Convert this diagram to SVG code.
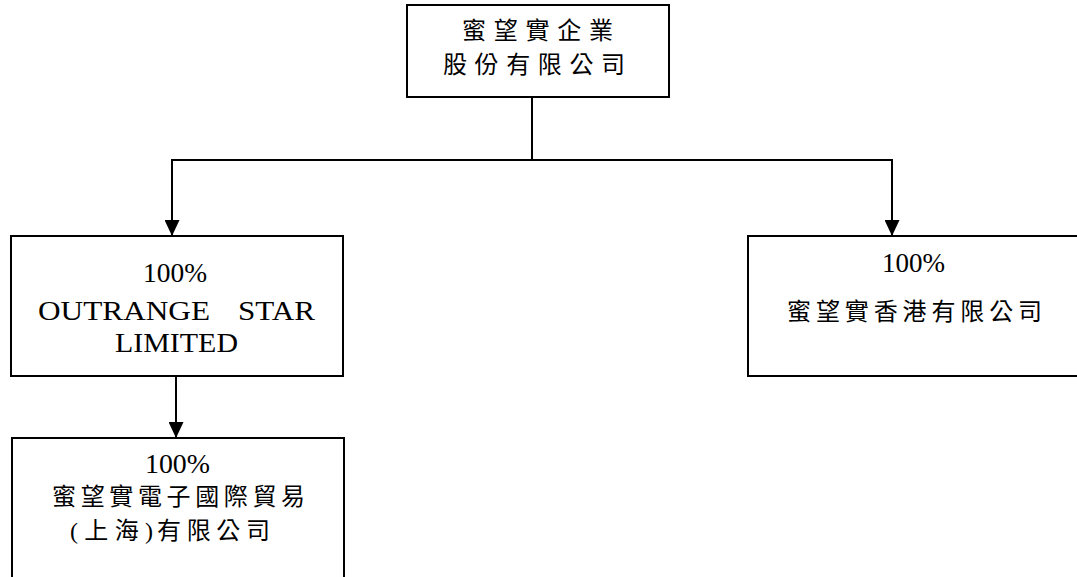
<svg xmlns="http://www.w3.org/2000/svg" width="1077" height="577" viewBox="0 0 1077 577">
<style>
.box{fill:#fff;stroke:#000;stroke-width:2}
.ln{fill:none;stroke:#000;stroke-width:2}
.cjk{font-family:"Noto Sans CJK TC","Noto Sans CJK SC",sans-serif;font-size:24px;fill:#000}
.mix{font-family:"Liberation Serif","Noto Sans CJK TC",serif;font-size:24px;fill:#000}
.ser{font-family:"Liberation Serif","Noto Sans CJK TC",serif;font-size:28px;fill:#000}
</style>
<defs>
<marker id="arr" markerUnits="userSpaceOnUse" markerWidth="16" markerHeight="15" refX="16" refY="7.5" orient="auto">
<path d="M0,0 L16,7.5 L0,15 z" fill="#000"/>
</marker>
</defs>
<rect width="1077" height="577" fill="#fff"/>
<g id="connectors">
<path class="ln" d="M532 97 V160"/>
<path class="ln" d="M171 160 H893"/>
<path class="ln" d="M172 160 V236" marker-end="url(#arr)"/>
<path class="ln" d="M892 160 V236" marker-end="url(#arr)"/>
<path class="ln" d="M176 376 V438" marker-end="url(#arr)"/>
</g>
<g id="node-parent">
<rect class="box" x="407" y="5" width="262" height="92"/>
<text class="cjk" x="462" y="39" textLength="151" lengthAdjust="spacing">蜜望實企業</text>
<text class="cjk" x="443" y="73" textLength="182" lengthAdjust="spacing">股份有限公司</text>
</g>
<g id="node-outrange">
<rect class="box" x="11" y="236" width="332" height="140"/>
<text class="ser" x="143" y="282" textLength="64" lengthAdjust="spacingAndGlyphs">100%</text>
<text class="ser" y="320"><tspan x="38" textLength="172" lengthAdjust="spacingAndGlyphs">OUTRANGE</tspan><tspan x="238" textLength="77" lengthAdjust="spacingAndGlyphs">STAR</tspan></text>
<text class="ser" x="115" y="352" textLength="123" lengthAdjust="spacingAndGlyphs">LIMITED</text>
</g>
<g id="node-hk">
<rect class="box" x="748" y="236" width="340" height="140"/>
<text class="ser" x="882" y="272" textLength="63" lengthAdjust="spacingAndGlyphs">100%</text>
<text class="cjk" x="787" y="320" textLength="255" lengthAdjust="spacing">蜜望實香港有限公司</text>
</g>
<g id="node-shanghai">
<rect class="box" x="12" y="438" width="332" height="160"/>
<text class="ser" x="145" y="473" textLength="65" lengthAdjust="spacingAndGlyphs">100%</text>
<text class="cjk" x="52" y="505" textLength="253" lengthAdjust="spacing">蜜望實電子國際貿易</text>
<text class="mix" y="539"><tspan x="70" textLength="83" lengthAdjust="spacing">(上海)</tspan><tspan x="157" textLength="113" lengthAdjust="spacing">有限公司</tspan></text>
</g>
</svg>
